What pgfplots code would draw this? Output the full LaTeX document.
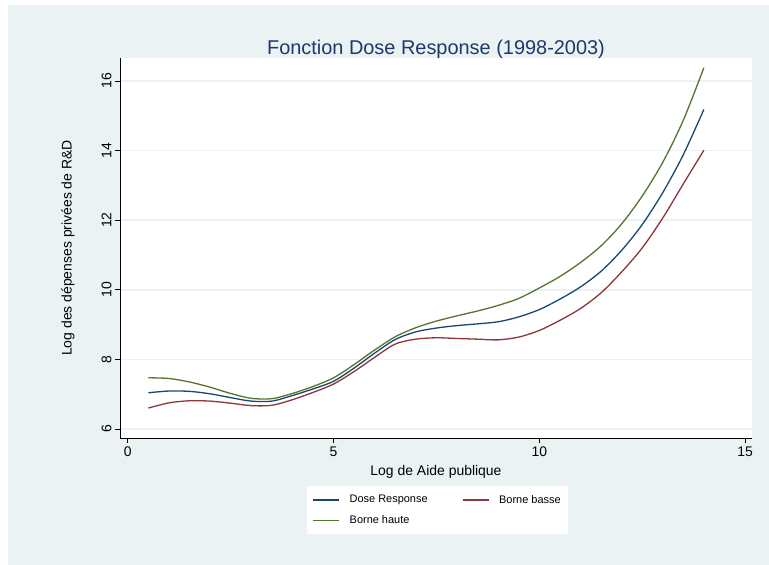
\documentclass[border=0pt]{standalone}
\usepackage{fontspec}
\setmainfont{Liberation Sans}
\usepackage{pgfplots}
\pgfplotsset{compat=1.18}
\definecolor{bgstata}{RGB}{234,242,243}
\definecolor{drnavy}{RGB}{26,71,111}
\definecolor{drmaroon}{RGB}{144,53,59}
\definecolor{drgreen}{RGB}{85,117,47}
\definecolor{titlenavy}{RGB}{30,57,105}
\begin{document}
\begin{tikzpicture}
\useasboundingbox (-120bp,-127bp) rectangle (649bp,438bp);
\fill[white] (-120bp,-127bp) rectangle (649bp,438bp);
\fill[bgstata] (-112bp,-127bp) rectangle (649bp,433bp);
\begin{axis}[
  scale only axis,
  width=632bp, height=380bp,
  xmin=-0.19, xmax=15.17,
  ymin=5.74, ymax=16.66,
  clip=false,
  axis x line*=bottom, axis y line*=left,
  axis line style={black, line width=0.8bp},
  axis background/.style={fill=white},
  xtick={0,5,10,15}, ytick={6,8,...,16},
  tick align=outside, major tick length=5bp,
  tick style={black, line width=0.8bp},
  ymajorgrids, grid style={bgstata, line width=1.6bp},
  /pgf/number format/assume math mode=true,
  tick label style={font=\fontsize{14}{16}\selectfont},
  yticklabel style={rotate=90, anchor=south},
  label style={font=\fontsize{14}{16}\selectfont},
  xlabel={Log de Aide publique},
  ylabel={Log des dépenses privées de R\&D},
  xlabel style={at={(axis description cs:0.5,-0.0895)}, anchor=center},
  ylabel style={at={(axis description cs:-0.0823,0.5)}, anchor=center},
  legend columns=2,
  legend cell align=left,
  legend style={at={(axis description cs:0.2959,-0.1263)}, anchor=north west,
    draw=none, fill=white, font=\fontsize{11}{13}\selectfont,
    inner xsep=5bp, inner ysep=7bp, row sep=7bp,
    /tikz/every odd column/.append style={column sep=7bp},
    /tikz/every even column/.append style={column sep=32bp}},
  every axis plot/.append style={line width=1.3bp, smooth},
]
\addplot[drnavy, legend image code/.code={\draw[drnavy, line width=2.5bp] (0bp,0bp) -- (26bp,0bp);}] coordinates {
(0.5,7.04) (1.0,7.09) (1.5,7.08) (2.0,7.01) (2.5,6.90) (3.0,6.80) (3.5,6.80)
(4.0,6.96) (4.5,7.15) (5.0,7.37) (5.5,7.75) (6.0,8.18) (6.5,8.57) (7.0,8.79)
(7.5,8.90) (8.0,8.97) (8.5,9.02) (9.0,9.08) (9.5,9.22) (10.0,9.43) (10.5,9.73)
(11.0,10.08) (11.5,10.53) (12.0,11.13) (12.5,11.87) (13.0,12.79) (13.5,13.88) (14.0,15.18)};
\addlegendentry{Dose Response}
\addplot[drmaroon, legend image code/.code={\draw[drmaroon, line width=2.5bp] (0bp,0bp) -- (26bp,0bp);}] coordinates {
(0.5,6.60) (1.0,6.75) (1.5,6.81) (2.0,6.80) (2.5,6.74) (3.0,6.67) (3.5,6.68)
(4.0,6.84) (4.5,7.05) (5.0,7.29) (5.5,7.65) (6.0,8.06) (6.5,8.44) (7.0,8.58)
(7.5,8.62) (8.0,8.60) (8.5,8.58) (9.0,8.56) (9.5,8.64) (10.0,8.83) (10.5,9.12)
(11.0,9.46) (11.5,9.91) (12.0,10.51) (12.5,11.20) (13.0,12.06) (13.5,13.04) (14.0,14.01)};
\addlegendentry{Borne basse}
\addplot[drgreen, legend image code/.code={\draw[drgreen, line width=0.8bp] (0bp,0bp) -- (26bp,0bp);}] coordinates {
(0.5,7.47) (1.0,7.45) (1.5,7.35) (2.0,7.20) (2.5,7.02) (3.0,6.88) (3.5,6.87)
(4.0,7.02) (4.5,7.22) (5.0,7.47) (5.5,7.85) (6.0,8.27) (6.5,8.65) (7.0,8.91)
(7.5,9.10) (8.0,9.25) (8.5,9.39) (9.0,9.55) (9.5,9.75) (10.0,10.05) (10.5,10.38)
(11.0,10.78) (11.5,11.26) (12.0,11.89) (12.5,12.69) (13.0,13.66) (13.5,14.87) (14.0,16.38)};
\addlegendentry{Borne haute}
\node[font=\fontsize{20}{24}\selectfont, text=titlenavy, anchor=base]
  at ([yshift=3bp]rel axis cs:0.5,1) {Fonction Dose Response (1998-2003)};
\end{axis}
\end{tikzpicture}
\end{document}
